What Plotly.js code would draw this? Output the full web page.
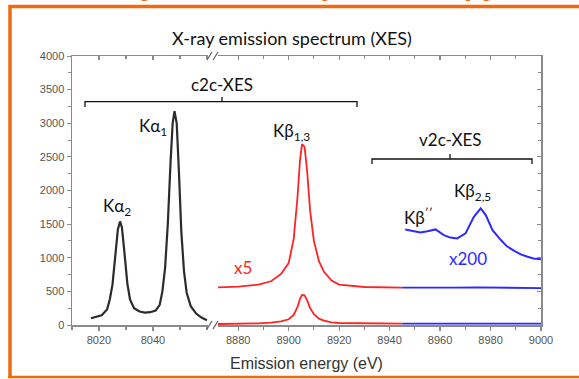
<!DOCTYPE html>
<html>
<head>
<meta charset="utf-8">
<script src="https://cdn.plot.ly/plotly-3.0.1.min.js"></script>
<style>html,body{margin:0;padding:0;background:#fff;}#chart{width:579px;height:379px;}</style>
</head>
<body>
<div id="chart"></div>
<script>
// ---- data ----
const kaEnergy = [8017,8019,8021,8023,8024,8025,8026,8027,8027.8,8028.5,8029.5,8030.5,8031.5,8033,8035,8037,8039,8041,8042.5,8043.5,8044.5,8045.5,8046.5,8047.3,8048,8048.8,8049.6,8050.5,8051.5,8052.5,8054,8056,8058,8060];
const kaCounts = [100,120,145,230,380,600,1000,1420,1540,1450,1050,620,380,250,200,185,190,215,300,500,850,1500,2400,3000,3180,3000,2300,1400,800,480,280,170,110,70];

const kbEnergy = [8872,8880,8888,8893,8897,8900,8902,8903.5,8904.5,8905.3,8906.3,8907.3,8908.5,8910,8912,8914,8917,8920,8930,8945];
const kbCounts = [15,18,25,35,55,85,150,270,390,445,440,370,250,160,95,65,40,30,22,20];
const kbX5 = [560,570,600,650,760,920,1280,1900,2450,2690,2650,2300,1700,1250,950,790,660,600,565,555];

const vtcEnergy = [8945,8955,8965,8975,8985,9000];
const vtcBase = [20,20,22,24,22,20];
const vtcBaseX5 = [555,552,556,560,552,548];

const v2cEnergy = [8946.2,8949,8952.2,8955,8958.2,8961.5,8964,8966.8,8970.1,8973.4,8976.1,8978.1,8980.8,8984.1,8986.5,8989.4,8992,8994.7,8997,9000];
const v2cCounts = [1421,1400,1377,1395,1421,1337,1300,1288,1362,1609,1733,1634,1411,1263,1170,1104,1050,1015,990,976];

const yTicks = [0,500,1000,1500,2000,2500,3000,3500,4000];
const xTicksLeft = [8020,8040];
const xTicksRight = [8880,8900,8920,8940,8960,8980,9000];

// ---- geometry helpers (plot area in pixels) ----
const L = 72, R = 541, T = 56, B = 325;
const px = x => (x - L) / (R - L);
const py = y => (B - y) / (B - T);

const black = '#2b2b2b', red = '#ff2424', blue = '#2a2aff', orange = '#ee6a12';

const traces = [
  {x: kaEnergy, y: kaCounts, xaxis: 'x', yaxis: 'y', mode: 'lines', line: {color: black, width: 2.2}},
  {x: kbEnergy, y: kbCounts, xaxis: 'x2', yaxis: 'y', mode: 'lines', line: {color: red, width: 1.8}},
  {x: kbEnergy, y: kbX5, xaxis: 'x2', yaxis: 'y', mode: 'lines', line: {color: red, width: 1.8}},
  {x: vtcEnergy, y: vtcBase, xaxis: 'x2', yaxis: 'y', mode: 'lines', line: {color: blue, width: 1.8}},
  {x: vtcEnergy, y: vtcBaseX5, xaxis: 'x2', yaxis: 'y', mode: 'lines', line: {color: blue, width: 1.8}},
  {x: v2cEnergy, y: v2cCounts, xaxis: 'x2', yaxis: 'y', mode: 'lines', line: {color: blue, width: 2}},
  // empty helper traces so the mirrored top / right axes are drawn
  {x: [null], y: [null], xaxis: 'x3', yaxis: 'y', mode: 'lines', hoverinfo: 'skip'},
  {x: [null], y: [null], xaxis: 'x4', yaxis: 'y', mode: 'lines', hoverinfo: 'skip'},
  {x: [null], y: [null], xaxis: 'x2', yaxis: 'y2', mode: 'lines', hoverinfo: 'skip'}
];

const axLine = '#8a8a8a';
const tickFont = {family: 'Liberation Sans, Arial', size: 11, color: '#555'};
const baseX = {
  showgrid: false, zeroline: false, showline: true, linecolor: axLine, linewidth: 1.5,
  ticks: 'outside', ticklen: 4, tickcolor: axLine, tickwidth: 1.2, tickfont: tickFont,
  minor: {dtick: 10, ticks: 'outside', ticklen: 3, tickcolor: axLine}
};
const d1 = px(208), d2 = px(218);
const minorIn = {dtick: 10, ticks: 'inside', ticklen: 3, tickcolor: axLine};

const layout = {
  width: 579, height: 379,
  margin: {l: L, r: 579 - R, t: T, b: 379 - B},
  paper_bgcolor: '#fff', plot_bgcolor: '#fff',
  showlegend: false,
  title: {text: 'X-ray emission spectrum (XES)', font: {family: 'Lato, Open Sans', size: 18, color: '#111'},
          x: 292 / 579, xanchor: 'center', xref: 'container', y: 1 - 39 / 379, yanchor: 'middle', yref: 'container'},
  xaxis: Object.assign({}, baseX, {domain: [0, d1], range: [8010, 8060.4], tickvals: xTicksLeft, anchor: 'y'}),
  xaxis2: Object.assign({}, baseX, {domain: [d2, 1], range: [8872, 9000], tickvals: xTicksRight, anchor: 'y'}),
  xaxis3: Object.assign({}, baseX, {overlaying: 'x', side: 'top', range: [8010, 8060.4], tickvals: xTicksLeft, anchor: 'y',
          ticks: 'inside', showticklabels: false, minor: minorIn}),
  xaxis4: Object.assign({}, baseX, {overlaying: 'x2', side: 'top', range: [8872, 9000], tickvals: xTicksRight, anchor: 'y',
          ticks: 'inside', showticklabels: false, minor: minorIn}),
  yaxis: {range: [0, 4000], tickvals: yTicks, ticktext: yTicks.map(String), showgrid: false, zeroline: false,
          showline: true, linecolor: axLine, linewidth: 1.5, ticks: 'outside', ticklen: 4, tickcolor: axLine,
          tickfont: tickFont, minor: {dtick: 250, ticks: 'outside', ticklen: 3, tickcolor: axLine}},
  yaxis2: {overlaying: 'y', side: 'right', anchor: 'x2', range: [0, 4000], tickvals: yTicks, showticklabels: false, showgrid: false,
          zeroline: false, showline: true, linecolor: axLine, linewidth: 1.5, ticks: 'inside', ticklen: 4, tickcolor: axLine,
          minor: {dtick: 250, ticks: 'inside', ticklen: 3, tickcolor: axLine}},
  annotations: [],
  shapes: []
};

const lab = {family: 'Lato, Open Sans', size: 17, color: '#111'};
function ann(text, x, y, xref, font) {
  layout.annotations.push({text: text, x: x, y: y, xref: xref, yref: xref === 'paper' ? 'paper' : 'y',
    showarrow: false, xanchor: 'center', yanchor: 'middle', font: font || lab});
}
ann('Kα<sub>2</sub>', 8026.8, 1760, 'x');
ann('Kα<sub>1</sub>', 8040, 2950, 'x');
ann('Kβ<sub>1,3</sub>', 8901, 2870, 'x2');
ann('x5', 8882, 850, 'x2', {family: 'Lato, Open Sans', size: 17, color: red});
ann('x200', 8971, 990, 'x2', {family: 'Lato, Open Sans', size: 17, color: blue});
ann('Kβ<sup>′′</sup>', 8951.5, 1610, 'x2');
ann('Kβ<sub>2,5</sub>', 8972.8, 1985, 'x2');
ann('c2c-XES', px(222), py(84), 'paper');
ann('v2c-XES', px(450), py(139), 'paper');
// axis title (spans both broken segments)
ann('Emission energy (eV)', px(306), py(363), 'paper', {family: 'Liberation Sans, Arial', size: 16, color: '#333'});
// cut-off orange heading at the very top
layout.annotations.push({text: '<b>X-ray emission spectroscopy</b>', xref: 'paper', yref: 'paper', x: px(290), y: py(-15.5),
  showarrow: false, xanchor: 'center', yanchor: 'middle', font: {family: 'Liberation Sans, Arial', size: 30, color: orange}});

function path(d, color, w) {
  layout.shapes.push({type: 'path', xref: 'paper', yref: 'paper', path: d, line: {color: color, width: w}, layer: 'above'});
}
function P(x, y) { return px(x) + ',' + py(y); }
// brackets
path('M' + P(85, 107) + ' L' + P(85, 101.7) + ' L' + P(357, 101.7) + ' L' + P(357, 107) + ' M' + P(222, 101.7) + ' L' + P(222, 97), '#111', 1.3);
path('M' + P(372, 164) + ' L' + P(372, 159) + ' L' + P(532, 159) + ' L' + P(532, 164) + ' M' + P(450, 159) + ' L' + P(450, 154), '#111', 1.3);
// axis break marks
[B, T].forEach(yy => {
  path('M' + P(207, yy + 4) + ' L' + P(212, yy - 4) + ' M' + P(213, yy + 4) + ' L' + P(218, yy - 4), '#666', 1.3);
});
// orange frame
path('M' + P(10, 378) + ' L' + P(10, 6.5) + ' L' + P(580, 6.5), orange, 3.5);
path('M' + P(8, 377) + ' L' + P(580, 377), orange, 2.5);

Plotly.newPlot('chart', traces, layout, {staticPlot: true, displayModeBar: false});
</script>
</body>
</html>
